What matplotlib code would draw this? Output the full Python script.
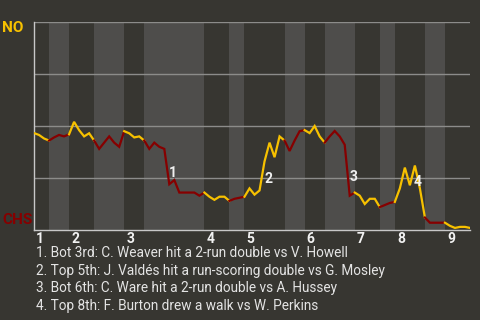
import matplotlib
matplotlib.use("Agg")
import matplotlib.pyplot as plt

# win probability for NO (1 = NO, 0 = CHS) after each plate appearance,
# grouped by half-inning (top = NO batting, bottom = CHS batting)
start_wp = 0.466
half_wp = [
    [0.457, 0.44, 0.43],                                                   # 1T
    [0.445, 0.457, 0.45, 0.46],                                            # 1B
    [0.52, 0.48, 0.45, 0.465, 0.43],                                       # 2T
    [0.39, 0.42, 0.45, 0.42, 0.40, 0.475],                                 # 2B
    [0.465, 0.445, 0.45, 0.43],                                            # 3T
    [0.39, 0.42, 0.40, 0.39, 0.22, 0.24, 0.18, 0.18, 0.18, 0.18, 0.165, 0.18],  # 3B
    [0.16, 0.145, 0.16, 0.16, 0.14],                                       # 4T
    [0.15, 0.155, 0.16],                                                   # 4B
    [0.20, 0.17, 0.19, 0.33, 0.42, 0.35, 0.45, 0.43],                      # 5T
    [0.38, 0.43, 0.475, 0.48],                                             # 5B
    [0.466, 0.50, 0.45, 0.42],                                             # 6T
    [0.45, 0.476, 0.45, 0.41, 0.165, 0.18],                                # 6B
    [0.165, 0.125, 0.15, 0.15, 0.11],                                      # 7T
    [0.12, 0.13, 0.135],                                                   # 7B
    [0.20, 0.30, 0.215, 0.31, 0.20, 0.06],                                 # 8T
    [0.035, 0.035, 0.035, 0.035],                                          # 8B
    [0.02, 0.01, 0.015, 0.015, 0.01],                                      # 9T
]
innings = ["1", "2", "3", "4", "5", "6", "7", "8", "9"]
away_team = "NO"
home_team = "CHS"

# key plays: label, (PA index, wp) where the number is drawn
event_labels = ["1", "2", "3", "4"]
event_pos = [(27.7, 0.274), (46.7, 0.245), (63.7, 0.255), (76.6, 0.23)]
event_text = [
    "1. Bot 3rd: C. Weaver hit a 2-run double vs V. Howell",
    "2. Top 5th: J. Valdés hit a run-scoring double vs G. Mosley",
    "3. Bot 6th: C. Ware hit a 2-run double vs A. Hussey",
    "4. Top 8th: F. Burton drew a walk vs W. Perkins",
]

BG = "#373631"
STRIPE = "#4e4d4b"
GRID = "#8c8c8a"
YELLOW = "#f7c100"
RED = "#860000"
FONT = ["Roboto", "DejaVu Sans"]

plt.rcParams["font.family"] = FONT

fig = plt.figure(figsize=(4.8, 3.2), dpi=100, facecolor=BG)
ax = fig.add_axes([34 / 480, 90 / 320, 436 / 480, 208 / 320])
ax.set_facecolor(BG)

total = sum(len(h) for h in half_wp)
ax.set_xlim(0, total)
ax.set_ylim(0, 1)

# stripes + line, one half-inning at a time
x0 = 0
prev = start_wp
inning_starts = []
for k, vals in enumerate(half_wp):
    n = len(vals)
    top_half = (k % 2 == 0)
    if top_half:
        inning_starts.append(x0)
    else:
        ax.axvspan(x0, x0 + n, color=STRIPE, lw=0, zorder=0)
    xs = list(range(x0, x0 + n + 1))
    ys = [prev] + vals
    ax.plot(xs, ys, color=YELLOW if top_half else RED, lw=1.6,
            solid_joinstyle="miter", zorder=3)
    x0 += n
    prev = vals[-1]

for y in [0.25, 0.5, 0.75, 1.0]:
    ax.axhline(y, color=GRID, lw=1, zorder=1)

for s in ["top", "right"]:
    ax.spines[s].set_visible(False)
for s in ["left", "bottom"]:
    ax.spines[s].set_color("#c8c8c8")
    ax.spines[s].set_linewidth(1)
ax.set_xticks([])
ax.set_yticks([])

# inning numbers under the axis
for lab, xs in zip(innings, inning_starts):
    ax.annotate(lab, (xs, 0), xytext=(1.5, -1.5), textcoords="offset points",
                ha="left", va="top", color="#f2f2f2", fontsize=10,
                fontweight="bold", annotation_clip=False)

for lab, (ex, ey) in zip(event_labels, event_pos):
    ax.text(ex, ey, lab, ha="center", va="center", color="#f0f0f0",
            fontsize=10, fontweight="bold", zorder=4)

fig.text(2 / 480, 1 - 28 / 320, away_team, color=YELLOW, fontsize=11,
         fontweight="bold", ha="left", va="center")
fig.text(2 / 480, 1 - 220 / 320, home_team, color=RED, fontsize=11,
         fontweight="bold", ha="left", va="center")

for i, t in enumerate(event_text):
    fig.text(36 / 480, 1 - (253 + 17.7 * i) / 320, t, color="#e4e4e4",
             fontsize=9.8, ha="left", va="center")

fig.savefig("out.png", dpi=100, facecolor=BG)
